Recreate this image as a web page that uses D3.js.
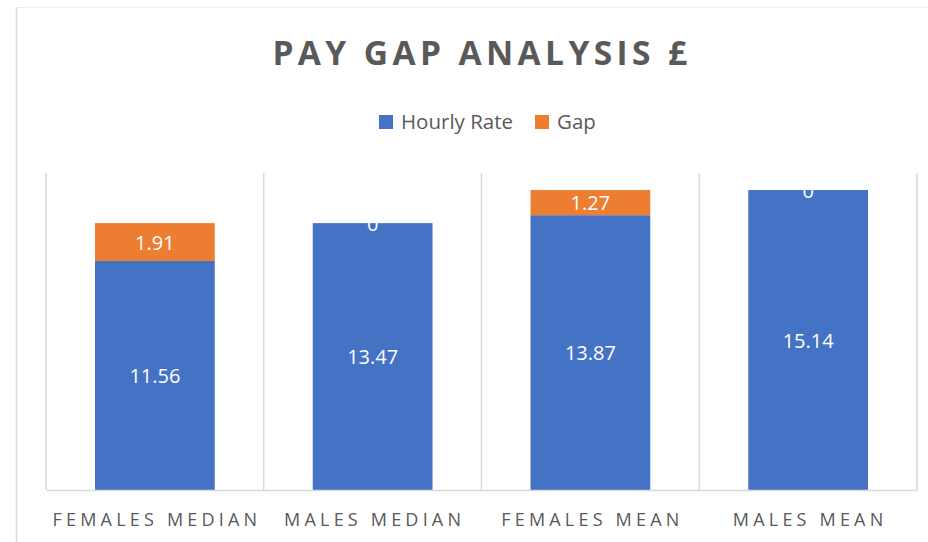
<!DOCTYPE html>
<html>
<head>
<meta charset="utf-8">
<script src="https://cdn.jsdelivr.net/npm/d3@7"></script>
<style>
  html, body { margin: 0; padding: 0; background: #ffffff; }
  svg { display: block; }
  text { font-family: "Open Sans", "Noto Sans", sans-serif; }
</style>
</head>
<body>
<svg id="chart" width="928" height="542"></svg>
<script>
// ---- data ----
const categories = ["FEMALES MEDIAN", "MALES MEDIAN", "FEMALES MEAN", "MALES MEAN"];
const hourlyRate = [11.56, 13.47, 13.87, 15.14];
const gap = [1.91, 0, 1.27, 0];
const seriesNames = ["Hourly Rate", "Gap"];
const seriesColors = ["#4472C4", "#ED7D31"];
const titleText = "PAY GAP ANALYSIS £";

const W = 928, H = 542;
const plot = { left: 46, right: 917, top: 173, bottom: 490 };

const svg = d3.select("#chart");

// outer chart border (faint)
svg.append("line").attr("x1", 16).attr("x2", W).attr("y1", 7.5).attr("y2", 7.5)
  .attr("stroke", "#efefef").attr("stroke-width", 1);
svg.append("line").attr("x1", 16.5).attr("x2", 16.5).attr("y1", 7).attr("y2", H)
  .attr("stroke", "#d9d9d9").attr("stroke-width", 1.5);

const table = categories.map((c, i) => ({ cat: c, "Hourly Rate": hourlyRate[i], "Gap": gap[i] }));

const xCell = d3.scaleBand().domain(categories).range([plot.left, plot.right]).padding(0);
const x = d3.scaleBand().domain(categories).range([plot.left, plot.right])
  .paddingInner(0.45).paddingOuter(0.225);
const y = d3.scaleLinear().domain([0, 16]).range([plot.bottom, plot.top]);
const color = d3.scaleOrdinal().domain(seriesNames).range(seriesColors);

// vertical gridlines at category boundaries
const bounds = categories.map(c => xCell(c)).concat([plot.right]);
svg.append("g").selectAll("line").data(bounds).join("line")
  .attr("x1", d => d).attr("x2", d => d)
  .attr("y1", plot.top).attr("y2", plot.bottom)
  .attr("stroke", "#d9d9d9").attr("stroke-width", 1.5);

// stacked bars
const stacked = d3.stack().keys(seriesNames)(table);
const layers = svg.append("g").selectAll("g").data(stacked).join("g")
  .attr("fill", d => color(d.key));
layers.selectAll("rect").data(d => d).join("rect")
  .attr("x", d => x(d.data.cat))
  .attr("width", x.bandwidth())
  .attr("y", d => y(d[1]))
  .attr("height", d => y(d[0]) - y(d[1]));

// bottom axis (category) line + labels
const xAxis = d3.axisBottom(xCell).tickSize(0).tickPadding(0);
const gx = svg.append("g").attr("transform", `translate(0,${plot.bottom})`).call(xAxis);
gx.select(".domain").attr("stroke", "#d9d9d9").attr("stroke-width", 1.5);
gx.selectAll(".tick text")
  .attr("y", 36)
  .attr("dy", 0)
  .attr("dx", 2)
  .attr("fill", "#595959")
  .style("font-size", "18px")
  .style("letter-spacing", "4.2px")
  .style("font-family", "'Open Sans', sans-serif");

// data labels
const labels = svg.append("g");
stacked.forEach(layer => {
  labels.selectAll(null).data(layer).join("text")
    .attr("x", d => x(d.data.cat) + x.bandwidth() / 2)
    .attr("y", d => (y(d[0]) + y(d[1])) / 2)
    .attr("text-anchor", "middle")
    .attr("dominant-baseline", "central")
    .attr("fill", "#ffffff")
    .style("font-size", "20px")
    .text(d => d.data[layer.key]);
});

// title
svg.append("text")
  .attr("x", 482).attr("y", 65)
  .attr("text-anchor", "middle")
  .attr("fill", "#595959")
  .style("font-size", "33.5px")
  .style("font-weight", "700")
  .style("letter-spacing", "4.4px")
  .text(titleText);

// legend
const legendItems = [
  { name: seriesNames[0], x: 379 },
  { name: seriesNames[1], x: 535 }
];
const lg = svg.append("g").selectAll("g").data(legendItems).join("g")
  .attr("transform", d => `translate(${d.x},115)`);
lg.append("rect").attr("width", 14).attr("height", 14).attr("fill", d => color(d.name));
lg.append("text").attr("x", 22).attr("y", 14)
  .attr("fill", "#595959")
  .style("font-size", "20.5px")
  .text(d => d.name);
</script>
</body>
</html>
